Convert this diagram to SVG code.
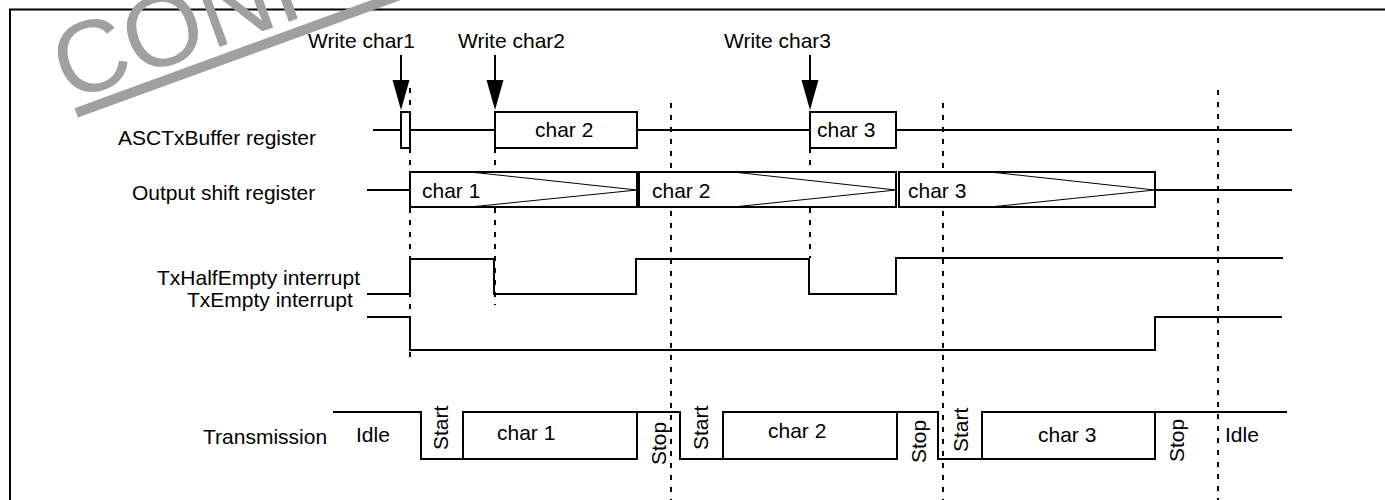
<svg xmlns="http://www.w3.org/2000/svg" width="1385" height="500" viewBox="0 0 1385 500">
<style>
text{font-family:"Liberation Sans",Arial,sans-serif;font-size:21px;fill:#000}
.w{fill:none;stroke:#000;stroke-width:2}
.box{fill:#fff;stroke:#000;stroke-width:2}
.thin{fill:none;stroke:#000;stroke-width:1}
.dash{fill:none;stroke:#000;stroke-width:2;stroke-dasharray:5 7}
.wm{font-size:102px;fill:#a0a0a0}
</style>
<rect width="1385" height="500" fill="#fff"/>
<path id="frame" class="w" d="M10,500 V9.5 H1385"/>
<g id="watermark" transform="rotate(-20 68 102)">
<text class="wm" x="68" y="102">CONFIDENTIAL</text>
<rect x="72" y="110" width="760" height="10" fill="#a0a0a0"/>
</g>
<g id="labels">
<text x="118" y="145">ASCTxBuffer register</text>
<text x="132" y="200">Output shift register</text>
<text x="157" y="285">TxHalfEmpty interrupt</text>
<text x="187" y="307">TxEmpty interrupt</text>
<text x="203" y="444">Transmission</text>
</g>
<g id="guides">
<path class="dash" d="M410,88 V357"/>
<path class="dash" d="M495,148 V305"/>
<path class="dash" d="M671,103 V500"/>
<path class="dash" d="M810,148 V258"/>
<path class="dash" d="M943,103 V500"/>
<path class="dash" d="M1218,90 V500"/>
</g>
<g id="buffer-register">
<path class="w" d="M373,130 H401 M410,130 H495 M637,130 H810 M896,130 H1292"/>
<rect class="box" x="401" y="112" width="9" height="36"/>
<rect class="box" x="495" y="112" width="142" height="36"/>
<text x="535" y="137">char 2</text>
<rect class="box" x="810" y="112" width="86" height="36"/>
<text x="817" y="137">char 3</text>
</g>
<g id="shift-register">
<path class="w" d="M367,190 H410 M1155,190 H1292"/>
<rect class="box" x="410" y="172" width="227" height="35"/>
<path class="thin" d="M470,172 L637,190 L470,207"/>
<text x="422" y="198">char 1</text>
<rect class="box" x="639" y="172" width="257" height="35"/>
<path class="thin" d="M733,172 L896,190 L733,207"/>
<text x="652" y="198">char 2</text>
<rect class="box" x="899" y="172" width="256" height="35"/>
<path class="thin" d="M990,172 L1155,190 L990,207"/>
<text x="908" y="198">char 3</text>
</g>
<g id="txhalfempty">
<path class="w" d="M367,294 H410 V259 H494 V294 H636 V259 H809 V294 H896 V258 H1283"/>
</g>
<g id="txempty">
<path class="w" d="M367,317 H410 V350 H1155 V317 H1282"/>
</g>
<g id="transmission">
<path class="w" d="M333,412 H421 V459 H463 V412 H680 V459 H723 V412 H938 V459 H982 V412 H1287"/>
<path class="w" d="M463,459 H637 V412 M723,459 H897 V412 M982,459 H1155 V412"/>
<text x="356" y="442">Idle</text>
<text x="497" y="440">char 1</text>
<text x="768" y="438">char 2</text>
<text x="1038" y="442">char 3</text>
<text x="1225" y="442">Idle</text>
<text transform="translate(447.5,450) rotate(-90)">Start</text>
<text transform="translate(665.5,465) rotate(-90)">Stop</text>
<text transform="translate(707.5,450) rotate(-90)">Start</text>
<text transform="translate(925.5,463) rotate(-90)">Stop</text>
<text transform="translate(968,452) rotate(-90)">Start</text>
<text transform="translate(1183.5,462) rotate(-90)">Stop</text>
</g>
<g id="connectors">
<path class="w" d="M401,55 V82"/>
<path d="M392.5,80 L409.5,80 L401,110 Z" fill="#000"/>
<path class="w" d="M495,55 V82"/>
<path d="M486.5,80 L503.5,80 L495,110 Z" fill="#000"/>
<path class="w" d="M810,55 V82"/>
<path d="M801.5,80 L818.5,80 L810,110 Z" fill="#000"/>
</g>
<g id="write-labels">
<text x="308" y="48">Write char1</text>
<text x="458" y="48">Write char2</text>
<text x="724" y="48">Write char3</text>
</g>
</svg>
